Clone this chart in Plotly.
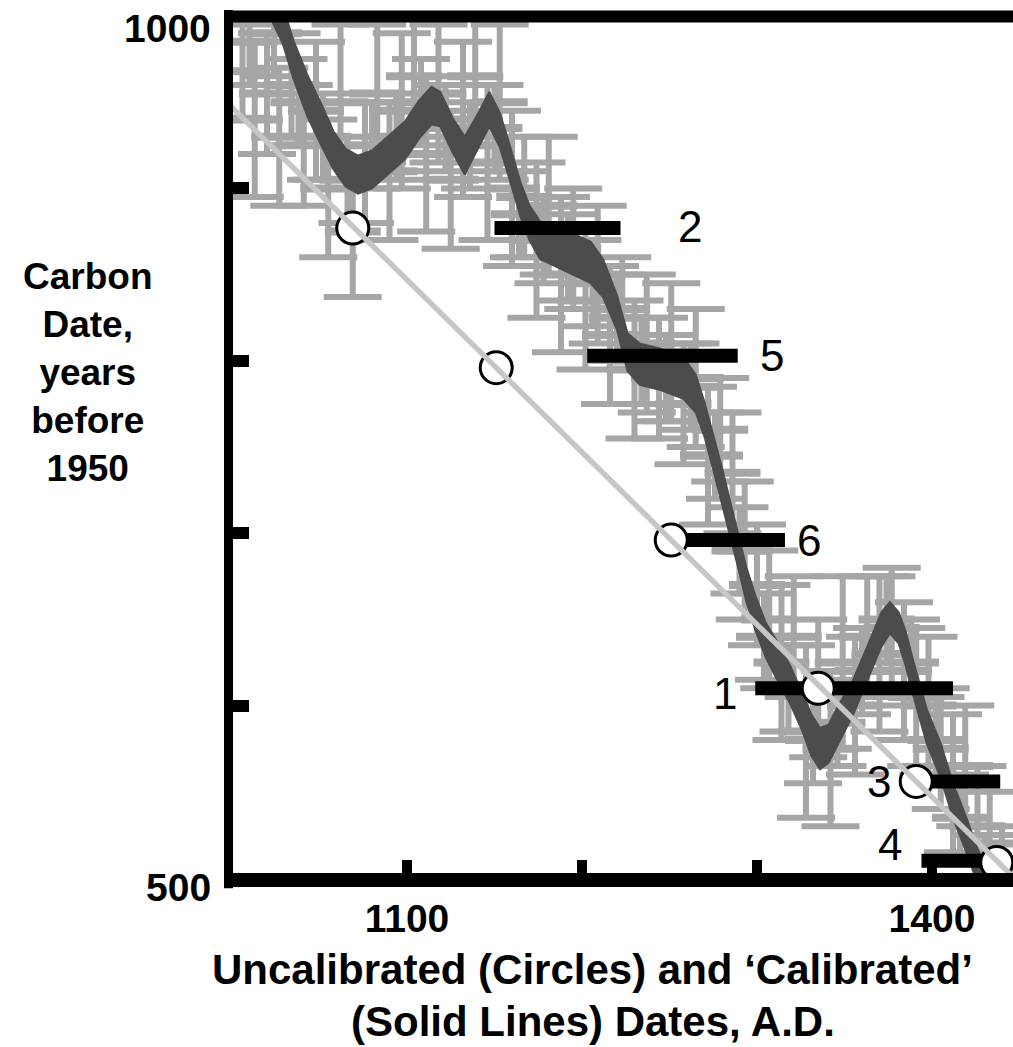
import plotly.graph_objects as go

# ---------------- data ----------------
# Calibration data points (gray error bars): year AD, carbon age BP, 1-sigma
pt_years = [1006, 1013, 1020, 1027, 1034, 1041, 1048, 1055, 1062, 1069, 1076, 1083, 1090, 1097,
            1104, 1111, 1118, 1125, 1132, 1139, 1146, 1153, 1160, 1167, 1174, 1181, 1188, 1195,
            1202, 1209, 1216, 1223, 1230, 1237, 1244, 1251, 1258, 1265, 1272, 1279, 1286, 1293,
            1300, 1307, 1314, 1321, 1328, 1335, 1342, 1349, 1356, 1363, 1370, 1377, 1384, 1391,
            1398, 1405, 1412, 1419, 1426, 1433, 1440]
pt_bp = [968, 940, 955, 930, 960, 925, 945, 900, 950, 875, 915, 955, 910, 945,
         965, 920, 955, 905, 940, 965, 915, 950, 900, 895, 870, 890, 850, 865,
         835, 850, 815, 830, 795, 810, 790, 805, 775, 790, 745, 760, 735, 690,
         670, 650, 625, 640, 585, 610, 575, 625, 600, 640, 630, 645, 620, 605,
         600, 575, 555, 565, 530, 520, 505]
pt_err = [27, 45, 35, 40, 30, 35, 40, 40, 45, 38, 35, 40, 40, 45,
          35, 45, 40, 40, 45, 35, 45, 45, 45, 35, 45, 40, 45, 35,
          40, 40, 40, 30, 40, 40, 35, 40, 35, 40, 40, 30, 35, 40,
          35, 40, 45, 35, 50, 40, 45, 50, 40, 35, 45, 35, 40, 40,
          40, 35, 40, 35, 35, 30, 25]

# Second calibration data set lying close to the curve
pt2_years = [1010, 1024, 1038, 1052, 1066, 1080, 1094, 1108, 1122, 1136, 1150, 1164, 1178, 1192,
             1206, 1220, 1234, 1248, 1262, 1276, 1290, 1304, 1318, 1332, 1346, 1360, 1374, 1388,
             1402, 1416, 1430]
pt2_bp = [985, 990, 950, 930, 905, 925, 930, 950, 935, 925, 935, 885, 870, 860,
          845, 825, 800, 790, 785, 745, 690, 640, 610, 580, 590, 620, 650, 625,
          580, 535, 500]
pt2_err = [25, 25, 25, 25, 25, 25, 25, 25, 25, 25, 25, 25, 25, 25,
           25, 25, 25, 25, 25, 25, 25, 25, 25, 25, 25, 25, 25, 25,
           25, 25, 25]

# Calibration curve (dark band): year AD, centre BP, half-width
cal_years = [1022, 1029, 1035, 1043, 1051, 1058, 1065, 1072, 1080, 1089, 1099, 1107, 1114, 1119,
             1126, 1133, 1141, 1147, 1153, 1159, 1165, 1170, 1176, 1190, 1205, 1212, 1220, 1226,
             1233, 1245, 1258, 1265, 1270, 1275, 1280, 1285, 1290, 1294, 1299, 1305, 1311, 1319,
             1326, 1331, 1336, 1341, 1346, 1355, 1365, 1371, 1376, 1381, 1385, 1389, 1397, 1405,
             1412, 1420, 1426, 1434]
cal_bp = [1010, 995, 975, 954, 937, 922, 912, 908, 911, 919, 928, 940, 948, 946,
          931, 919, 934, 946, 934, 914, 893, 880, 870, 864, 857, 848, 828, 805,
          798, 795, 790, 781, 766, 747, 728, 707, 687, 670, 654, 638, 627, 612,
          596, 583, 575, 578, 588, 605, 629, 644, 651, 645, 633, 617, 588, 568,
          545, 524, 507, 490]
cal_sig = [11, 11, 11, 12, 12, 11, 11, 11, 11, 11, 11, 11, 11, 10,
           10, 11, 10, 10, 10, 10, 10, 10, 11, 12, 12, 11, 10, 11,
           12, 12, 12, 11, 10, 10, 10, 10, 10, 10, 10, 10, 11, 11,
           11, 12, 12, 11, 11, 10, 10, 10, 9, 9, 10, 10, 10, 10,
           10, 10, 10, 10]

# Samples 1..6: uncalibrated dates (circles) and calibrated ranges (solid lines)
sample_labels = ["1", "2", "3", "4", "5", "6"]
uncal_years = [1335, 1069, 1391, 1437, 1151, 1251]
uncal_bp = [610, 877, 556, 509, 796, 696]
cal_start = [1299, 1150, 1395, 1394, 1203, 1250]
cal_end = [1412, 1222, 1439, 1440, 1289, 1316]
bar_bp = [610, 877, 556, 510, 803, 696]

# Uncalibrated reference line (carbon date = 1950 - year)
ref_years = [1000, 1447]
ref_bp = [947, 500]

# Axis ticks
x_tickvals = [1100, 1200, 1300, 1400]
x_ticktext = ["1100", "", "", "1400"]
y_tickvals = [600, 700, 800, 900]
y_labels = ["1000", "500"]
y_label_vals = [1000, 500]

# ---------------- figure ----------------
FONT = "Liberation Sans, Arial, sans-serif"
LIGHT = "#a6a6a6"
DARK = "#4c4c4c"

fig = go.Figure()

# gray calibration data error bars
for xs, ys, es in [(pt_years, pt_bp, pt_err), (pt2_years, pt2_bp, pt2_err)]:
    fig.add_trace(go.Scatter(
        x=xs, y=ys, mode="markers",
        marker=dict(size=2, color=LIGHT),
        error_y=dict(type="data", array=es, visible=True, color=LIGHT, thickness=6, width=29),
        error_x=dict(type="constant", value=16, visible=True, color=LIGHT, thickness=8, width=0),
        hoverinfo="skip",
    ))

# dark calibration band
band_x = cal_years + cal_years[::-1]
band_y = [c + s for c, s in zip(cal_bp, cal_sig)] + [c - s for c, s in zip(cal_bp, cal_sig)][::-1]
fig.add_trace(go.Scatter(
    x=band_x, y=band_y, mode="lines", fill="toself",
    fillcolor=DARK, line=dict(color=DARK, width=2), hoverinfo="skip",
))
fig.add_trace(go.Scatter(
    x=cal_years, y=cal_bp, mode="lines",
    line=dict(color=DARK, width=8), hoverinfo="skip",
))

# black calibrated ranges
bx, by = [], []
for s, e, b in zip(cal_start, cal_end, bar_bp):
    bx += [s, e, None]
    by += [b, b, None]
fig.add_trace(go.Scatter(x=bx, y=by, mode="lines",
                         line=dict(color="black", width=14), hoverinfo="skip"))

# circles (uncalibrated dates)
fig.add_trace(go.Scatter(
    x=uncal_years, y=uncal_bp, mode="markers", cliponaxis=False,
    marker=dict(symbol="circle", size=32, color="white", line=dict(color="black", width=3)),
    hoverinfo="skip",
))

# light gray reference line
fig.add_trace(go.Scatter(
    x=ref_years, y=ref_bp, mode="lines",
    line=dict(color="#c6c6c6", width=5.5), hoverinfo="skip",
))

# sample number labels
label_pos = {  # anchor ('start'/'end' of bar), xshift, yshift in px
    "1": ("start", -30, -5),
    "2": ("end", 70, 2),
    "3": ("start", -44, 0),
    "4": ("start", -31, 16),
    "5": ("end", 34, 0),
    "6": ("end", 24, 0),
}
for lab, s, e, b in zip(sample_labels, cal_start, cal_end, bar_bp):
    which, dx, dy = label_pos[lab]
    fig.add_annotation(
        x=s if which == "start" else e, y=b, text=lab, showarrow=False,
        xanchor="center", yanchor="middle", xshift=dx, yshift=dy,
        font=dict(family=FONT, size=44, color="black"),
    )

# y-axis end labels
for txt, v, dy in zip(y_labels, y_label_vals, [-12, -9]):
    fig.add_annotation(
        xref="paper", yref="y", x=-0.024, y=v, text=txt, showarrow=False,
        xanchor="right", yanchor="middle", yshift=dy,
        font=dict(family=FONT, size=39, color="black", weight="bold"),
    )

# axis titles
fig.add_annotation(
    xref="paper", yref="paper", x=-0.1844, y=0.587,
    text="Carbon<br>Date,<br>years<br>before<br>1950", showarrow=False,
    xanchor="center", yanchor="middle", align="center",
    font=dict(family=FONT, size=37, color="black", weight="bold"),
)
for txt, yp in zip(["Uncalibrated (Circles) and ‘Calibrated’", "(Solid Lines) Dates, A.D."],
                   [-0.1056, -0.1659]):
    fig.add_annotation(
        xref="paper", yref="paper", x=0.462, y=yp, text=txt, showarrow=False,
        xanchor="center", yanchor="middle", align="center",
        font=dict(family=FONT, size=42, color="black", weight="bold"),
    )

# heavy frame lines (left, top, bottom)
fig.add_shape(type="line", xref="paper", yref="paper", x0=-0.00448, x1=-0.00448, y0=-0.012, y1=1.007,
              line=dict(color="black", width=9), layer="above")
fig.add_shape(type="line", xref="paper", yref="paper", x0=-0.01, x1=1.0, y0=0.99942, y1=0.99942,
              line=dict(color="black", width=12), layer="above")
fig.add_shape(type="line", xref="paper", yref="paper", x0=-0.01, x1=1.0, y0=-0.00232, y1=-0.00232,
              line=dict(color="black", width=14), layer="above")

fig.update_xaxes(
    range=[1000, 1446.3], showgrid=False, zeroline=False, showline=False, automargin=False,
    ticks="inside", ticklen=18, tickwidth=10, tickcolor="black",
    tickvals=x_tickvals, ticktext=x_ticktext, ticklabelstandoff=14,
    tickfont=dict(family=FONT, size=39, color="black", weight="bold"),
)
fig.update_yaxes(
    range=[500, 1000], showgrid=False, zeroline=False, showline=False, automargin=False,
    ticks="inside", ticklen=17, tickwidth=12, tickcolor="black",
    tickvals=y_tickvals, showticklabels=False,
)

fig.update_layout(
    template="none",
    width=1013, height=1047, autosize=False,
    margin=dict(l=232, r=0, t=16, b=169, pad=0),
    paper_bgcolor="white", plot_bgcolor="white",
    showlegend=False, hovermode=False,
)

fig.write_html(
    "out.html",
    config={"displayModeBar": False},
    post_script="document.body.style.margin='0';document.body.style.overflow='hidden';",
)
